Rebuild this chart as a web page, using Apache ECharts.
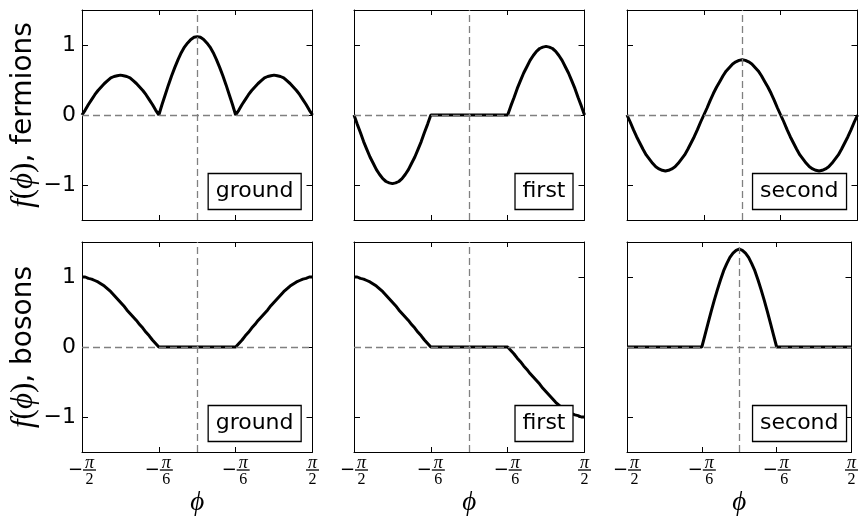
<!DOCTYPE html>
<html>
<head>
<meta charset="utf-8">
<script src="https://cdn.jsdelivr.net/npm/echarts@6/dist/echarts.min.js"></script>
<style>
html,body{margin:0;padding:0;background:#fff;}
#chart{width:861px;height:519px;}
</style>
</head>
<body>
<div id="chart"></div>
<script>
// ---- data (phi in degrees, 2.5 degree steps) ----
const phiDeg = [-90,-87.5,-85,-82.5,-80,-77.5,-75,-72.5,-70,-67.5,-65,-62.5,-60,-57.5,-55,-52.5,-50,-47.5,-45,-42.5,-40,-37.5,-35,-32.5,-30,
  -27.5,-25,-22.5,-20,-17.5,-15,-12.5,-10,-7.5,-5,-2.5,0,2.5,5,7.5,10,12.5,15,17.5,20,22.5,25,27.5,30,
  32.5,35,37.5,40,42.5,45,47.5,50,52.5,55,57.5,60,62.5,65,67.5,70,72.5,75,77.5,80,82.5,85,87.5,90];

const fermionsGround = [0,0.07,0.15,0.22,0.29,0.35,0.40,0.45,0.49,0.53,0.55,0.56,0.57,0.56,0.55,0.53,0.49,0.45,0.40,0.35,0.29,0.22,0.15,0.07,0,
  0.15,0.29,0.43,0.56,0.68,0.79,0.89,0.97,1.03,1.08,1.11,1.12,1.11,1.08,1.03,0.97,0.89,0.79,0.68,0.56,0.43,0.29,0.15,0,
  0.07,0.15,0.22,0.29,0.35,0.40,0.45,0.49,0.53,0.55,0.56,0.57,0.56,0.55,0.53,0.49,0.45,0.40,0.35,0.29,0.22,0.15,0.07,0];
const fermionsFirst = [0,-0.13,-0.25,-0.38,-0.49,-0.60,-0.69,-0.78,-0.85,-0.91,-0.95,-0.97,-0.98,-0.97,-0.95,-0.91,-0.85,-0.78,-0.69,-0.60,-0.49,-0.38,-0.25,-0.13,0,
  0,0,0,0,0,0,0,0,0,0,0,0,0,0,0,0,0,0,0,0,0,0,0,0,
  0.13,0.25,0.38,0.49,0.60,0.69,0.78,0.85,0.91,0.95,0.97,0.98,0.97,0.95,0.91,0.85,0.78,0.69,0.60,0.49,0.38,0.25,0.13,0];
const fermionsSecond = [0,-0.10,-0.21,-0.31,-0.40,-0.49,-0.57,-0.63,-0.69,-0.74,-0.77,-0.79,-0.80,-0.79,-0.77,-0.74,-0.69,-0.63,-0.57,-0.49,-0.40,-0.31,-0.21,-0.10,0,
  0.10,0.21,0.31,0.40,0.48,0.56,0.63,0.68,0.73,0.76,0.78,0.79,0.78,0.76,0.73,0.68,0.63,0.56,0.48,0.40,0.31,0.21,0.10,0,
  -0.10,-0.21,-0.31,-0.40,-0.49,-0.57,-0.63,-0.69,-0.74,-0.77,-0.79,-0.80,-0.79,-0.77,-0.74,-0.69,-0.63,-0.57,-0.49,-0.40,-0.31,-0.21,-0.10,0];
const bosonsGround = [1.00,1.00,0.98,0.97,0.95,0.93,0.90,0.87,0.83,0.79,0.74,0.69,0.64,0.59,0.53,0.48,0.43,0.38,0.32,0.27,0.21,0.16,0.10,0.05,0,
  0,0,0,0,0,0,0,0,0,0,0,0,0,0,0,0,0,0,0,0,0,0,0,0,
  0.05,0.10,0.16,0.21,0.27,0.32,0.38,0.43,0.48,0.53,0.59,0.64,0.69,0.74,0.79,0.83,0.87,0.90,0.93,0.95,0.97,0.98,1.00,1.00];
const bosonsFirst = [1.00,1.00,0.98,0.97,0.95,0.93,0.90,0.87,0.83,0.79,0.74,0.69,0.64,0.59,0.53,0.48,0.43,0.38,0.32,0.27,0.21,0.16,0.10,0.05,0,
  0,0,0,0,0,0,0,0,0,0,0,0,0,0,0,0,0,0,0,0,0,0,0,0,
  -0.05,-0.10,-0.16,-0.21,-0.27,-0.32,-0.38,-0.43,-0.48,-0.53,-0.59,-0.64,-0.69,-0.74,-0.79,-0.83,-0.87,-0.90,-0.93,-0.95,-0.97,-0.98,-1.00,-1.00];
const bosonsSecond = [0,0,0,0,0,0,0,0,0,0,0,0,0,0,0,0,0,0,0,0,0,0,0,0,0,
  0.17,0.34,0.51,0.67,0.82,0.96,1.09,1.19,1.28,1.34,1.38,1.40,1.38,1.34,1.28,1.19,1.09,0.96,0.82,0.67,0.51,0.34,0.17,0,
  0,0,0,0,0,0,0,0,0,0,0,0,0,0,0,0,0,0,0,0,0,0,0,0];

const rowNames = ['fermions', 'bosons'];
const stateNames = ['ground', 'first', 'second'];
const panelSeries = [
  [fermionsGround, fermionsFirst, fermionsSecond],
  [bosonsGround, bosonsFirst, bosonsSecond]
];

const xTickValues = [-90, -30, 30, 90];
const xTickLabels = ['−π/2', '−π/6', '−π/6', 'π/2'];
const yTickValues = [-1, 0, 1];
const yTickLabels = ['−1', '0', '1'];
const xAxisName = 'ϕ';

// ---- layout ----
const gridLeft = [82, 354, 627];
const gridTop = [10, 242];
const gridW = 230.5, gridH = 210;
const CW = 861, CH = 519;

function fracLabel(v) {
  const k = xTickValues.indexOf(Math.round(v));
  if (k < 0) return '';
  const s = xTickLabels[k];
  const neg = s[0] === '−';
  const body = neg ? s.slice(1) : s;
  const parts = body.split('/');
  if (neg) return '{sp| }{num|' + parts[0] + '}\n{minus|−}{bar| }\n{sp| }{den|' + parts[1] + '}';
  return '{num|' + parts[0] + '}\n{bar| }\n{den|' + parts[1] + '}';
}
function yLabel(v) {
  const k = yTickValues.indexOf(Math.round(v));
  return k < 0 ? '' : yTickLabels[k];
}

const fracRich = {
  sp: {width: 15, fontSize: 10, lineHeight: 1},
  num: {width: 13, align: 'center', fontFamily: 'Liberation Serif', fontStyle: 'italic', fontSize: 18, lineHeight: 10, color: '#000'},
  minus: {width: 15, align: 'left', fontFamily: 'DejaVu Sans', fontSize: 18, lineHeight: 3, color: '#000'},
  bar: {width: 13, height: 1.3, backgroundColor: '#000', fontSize: 1, lineHeight: 3},
  den: {width: 13, align: 'center', fontFamily: 'Liberation Serif', fontSize: 16, lineHeight: 16, color: '#000'}
};
const nameRich = {
  it: {fontFamily: 'Liberation Serif', fontStyle: 'italic', fontSize: 31, color: '#000'},
  rm: {fontFamily: 'Liberation Serif', fontSize: 31, color: '#000'},
  sans: {fontFamily: 'DejaVu Sans', fontSize: 28, color: '#000'}
};

const grids = [], xAxes = [], yAxes = [], series = [], titles = [];
const black = {color: '#000', width: 1};

for (let r = 0; r < 2; r++) {
  for (let c = 0; c < 3; c++) {
    const i = r * 3 + c;
    grids.push({left: gridLeft[c], top: gridTop[r], width: gridW, height: gridH, containLabel: false});
    const xBase = {
      gridIndex: i, type: 'value', min: -90, max: 90, interval: 60,
      axisLine: {show: true, onZero: false, lineStyle: black},
      axisTick: {show: true, inside: true, length: 5, customValues: xTickValues, lineStyle: black},
      splitLine: {show: false}
    };
    xAxes.push(Object.assign({}, xBase, {
      position: 'bottom',
      axisLabel: {show: r === 1, customValues: xTickValues, formatter: fracLabel, rich: fracRich, margin: 6.5, color: '#000'},
      name: r === 1 ? xAxisName : '',
      nameLocation: 'middle', nameGap: 37,
      nameTextStyle: {fontFamily: 'Liberation Serif', fontStyle: 'italic', fontSize: 27, color: '#000'}
    }));
    xAxes.push(Object.assign({}, xBase, {position: 'top', axisLabel: {show: false}}));
    const yBase = {
      gridIndex: i, type: 'value', min: -1.5, max: 1.5,
      axisLine: {show: true, onZero: false, lineStyle: black},
      axisTick: {show: true, inside: true, length: 6, customValues: yTickValues, lineStyle: black},
      splitLine: {show: false}
    };
    yAxes.push(Object.assign({}, yBase, {
      position: 'left',
      axisLabel: {show: c === 0, customValues: yTickValues, formatter: yLabel, fontFamily: 'DejaVu Sans', fontSize: 22, color: '#000', margin: 6},
      name: c === 0 ? '{it|f}{rm|(}{it|ϕ}{rm|)}{sans|, ' + rowNames[r] + '}' : '',
      nameLocation: 'middle', nameGap: 29,
      nameTextStyle: {rich: nameRich}
    }));
    yAxes.push(Object.assign({}, yBase, {position: 'right', axisLabel: {show: false}}));

    const vals = panelSeries[r][c];
    series.push({
      type: 'line',
      xAxisIndex: 2 * i, yAxisIndex: 2 * i,
      data: phiDeg.map((p, k) => [p, vals[k]]),
      showSymbol: false, symbol: 'none',
      lineStyle: {color: '#000', width: 3},
      z: 2,
      animation: false,
      markLine: {
        silent: true, symbol: 'none', animation: false,
        label: {show: false},
        lineStyle: {color: '#808080', width: 1.3, type: [7, 4]},
        data: [{xAxis: 0}, {yAxis: 0}]
      }
    });

    titles.push({
      text: stateNames[c],
      right: CW - (gridLeft[c] + gridW - 11),
      bottom: CH - (gridTop[r] + gridH - 10),
      borderColor: '#000', borderWidth: 1.3, backgroundColor: '#fff',
      padding: [5, 8],
      textStyle: {fontFamily: 'DejaVu Sans', fontWeight: 'normal', fontSize: 22, lineHeight: 27, color: '#000'}
    });
  }
}

const chart = echarts.init(document.getElementById('chart'), null, {renderer: 'canvas'});
chart.setOption({
  backgroundColor: '#fff',
  animation: false,
  title: titles,
  grid: grids,
  xAxis: xAxes,
  yAxis: yAxes,
  series: series
});
</script>
</body>
</html>
